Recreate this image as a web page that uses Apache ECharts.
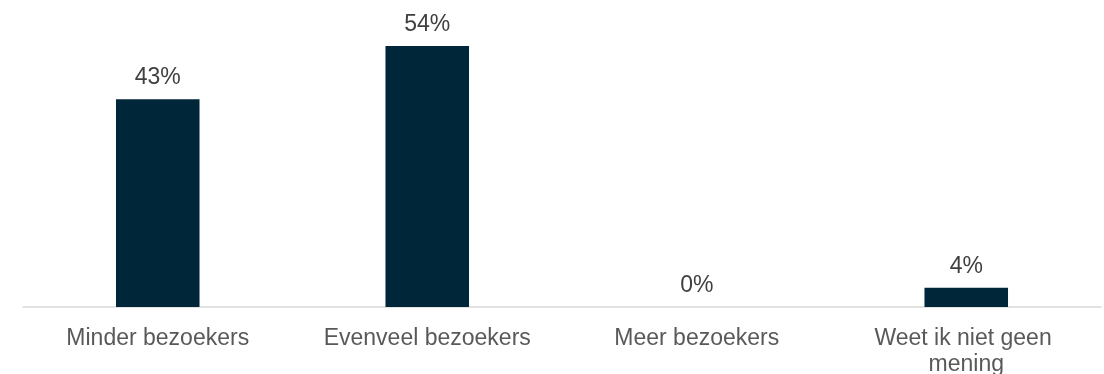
<!DOCTYPE html>
<html>
<head>
<meta charset="utf-8">
<script src="https://cdn.jsdelivr.net/npm/echarts@6/dist/echarts.min.js"></script>
<style>
  html, body { margin: 0; padding: 0; background: #ffffff; }
  #chart { width: 1104px; height: 374px; }
</style>
</head>
<body>
<div id="chart"></div>
<script>
// Survey answers and their shares (percent)
const categories = ['Minder bezoekers', 'Evenveel bezoekers', 'Meer bezoekers', 'Weet ik niet geen mening'];
const shares = [43, 54, 0, 4];

const chart = echarts.init(document.getElementById('chart'));
chart.setOption({
  animation: false,
  // fixed plot area; the wrapped last label may run past the bottom edge
  grid: { left: 23, right: 3, top: 17, bottom: 67, containLabel: false, outerBoundsMode: 'none' },
  xAxis: {
    type: 'category',
    data: categories,
    axisLine: { show: true, lineStyle: { color: '#d9d9d9', width: 1.5 } },
    axisTick: { show: false },
    axisLabel: {
      interval: 0,
      margin: 19,
      color: '#595959',
      fontFamily: 'Liberation Sans, Arial, sans-serif',
      fontSize: 23,
      lineHeight: 26,
      width: 240,
      overflow: 'break'
    }
  },
  yAxis: {
    type: 'value',
    min: 0,
    max: 60,
    show: false,
    splitLine: { show: false }
  },
  series: [{
    type: 'bar',
    data: shares,
    barWidth: '31%',
    itemStyle: { color: '#002639' },
    label: {
      show: true,
      position: 'top',
      distance: 10,
      formatter: '{c}%',
      color: '#404040',
      fontFamily: 'Liberation Sans, Arial, sans-serif',
      fontSize: 23
    }
  }]
});
</script>
</body>
</html>
